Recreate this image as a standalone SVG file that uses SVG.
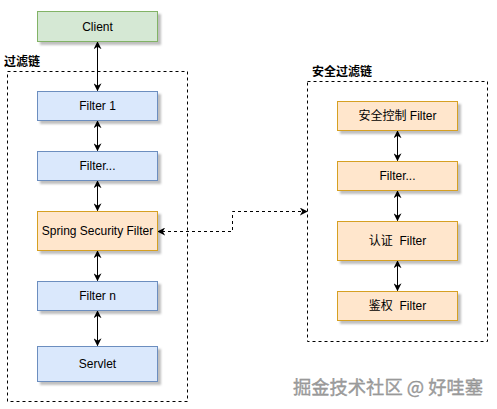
<svg xmlns="http://www.w3.org/2000/svg" width="497" height="409" viewBox="0 0 497 409">
<style>
.g{fill:#d5e8d4;stroke:#82b366}
.b{fill:#dae8fc;stroke:#6c8ebf}
.o{fill:#ffe6cc;stroke:#d6a020}
.t{font-family:"Liberation Sans",Arial,"Noto Sans CJK SC",sans-serif;font-size:12px;fill:#000;text-anchor:middle;dominant-baseline:central;white-space:pre}
.lbl{font-family:"Noto Sans CJK SC","Liberation Sans",sans-serif;font-size:12px;font-weight:bold;fill:#000}
.ct{fill:none;stroke:#000;stroke-dasharray:3 3;stroke-width:1}
.ar{fill:none;stroke:#000;stroke-width:1}
.wm{font-family:"Noto Sans CJK SC","Liberation Sans",sans-serif;font-size:18px;fill:#a0a0a0;stroke:#888;stroke-width:0.3}
</style>
<defs>
<filter id="sh" x="-10%" y="-10%" width="130%" height="140%">
<feDropShadow dx="3" dy="3" stdDeviation="0.8" flood-color="#000" flood-opacity="0.25"/>
</filter>
<marker id="a" viewBox="0 0 10 10" refX="9" refY="5" markerWidth="8" markerHeight="8" orient="auto-start-reverse" markerUnits="userSpaceOnUse">
<path d="M0,0 L10,5 L0,10 L3,5 z" fill="#000"/>
</marker>
</defs>
<rect width="497" height="409" fill="#fff"/>
<g id="chain">
<rect class="ct" x="7.5" y="71.5" width="180" height="330"/>
<text class="lbl" x="4" y="66">过滤链</text>
</g>
<g id="secchain">
<rect class="ct" x="307.5" y="81.5" width="180" height="260"/>
<text class="lbl" x="312" y="76">安全过滤链</text>
</g>
<g id="connectors">
<line class="ar" x1="97.5" y1="42" x2="97.5" y2="90.5" marker-start="url(#a)" marker-end="url(#a)"/>
<line class="ar" x1="97.5" y1="121" x2="97.5" y2="150.5" marker-start="url(#a)" marker-end="url(#a)"/>
<line class="ar" x1="97.5" y1="181" x2="97.5" y2="210.5" marker-start="url(#a)" marker-end="url(#a)"/>
<line class="ar" x1="97.5" y1="251" x2="97.5" y2="280.5" marker-start="url(#a)" marker-end="url(#a)"/>
<line class="ar" x1="97.5" y1="311" x2="97.5" y2="345.5" marker-start="url(#a)" marker-end="url(#a)"/>
<line class="ar" x1="397.5" y1="131" x2="397.5" y2="160.5" marker-start="url(#a)" marker-end="url(#a)"/>
<line class="ar" x1="397.5" y1="191" x2="397.5" y2="220.5" marker-start="url(#a)" marker-end="url(#a)"/>
<line class="ar" x1="397.5" y1="261" x2="397.5" y2="290.5" marker-start="url(#a)" marker-end="url(#a)"/>
<path class="ar" d="M307 211.5 H232.5 V231.5 H158" stroke-dasharray="3 3" marker-start="url(#a)" marker-end="url(#a)"/>
</g>
<g id="client"><rect class="g" x="37.5" y="11.5" width="120" height="30" filter="url(#sh)"/><text class="t" x="97.5" y="26.5">Client</text></g>
<g id="filter1"><rect class="b" x="37.5" y="91.5" width="120" height="29" filter="url(#sh)"/><text class="t" x="97.5" y="106">Filter 1</text></g>
<g id="filterdots"><rect class="b" x="37.5" y="151.5" width="120" height="29" filter="url(#sh)"/><text class="t" x="97.5" y="166">Filter...</text></g>
<g id="springsec"><rect class="o" x="37.5" y="211.5" width="120" height="39" filter="url(#sh)"/><text class="t" x="97.5" y="231">Spring Security Filter</text></g>
<g id="filtern"><rect class="b" x="37.5" y="281.5" width="120" height="29" filter="url(#sh)"/><text class="t" x="97.5" y="296">Filter n</text></g>
<g id="servlet"><rect class="b" x="37.5" y="346.5" width="120" height="35" filter="url(#sh)"/><text class="t" x="97.5" y="364">Servlet</text></g>
<g id="secctl"><rect class="o" x="337.5" y="101.5" width="120" height="29" filter="url(#sh)"/><text class="t" x="397.5" y="116">安全控制 Filter</text></g>
<g id="secdots"><rect class="o" x="337.5" y="161.5" width="120" height="29" filter="url(#sh)"/><text class="t" x="397.5" y="176">Filter...</text></g>
<g id="auth"><rect class="o" x="337.5" y="221.5" width="120" height="39" filter="url(#sh)"/><text class="t" x="397.5" y="241" xml:space="preserve">认证  Filter</text></g>
<g id="authz"><rect class="o" x="337.5" y="291.5" width="120" height="29" filter="url(#sh)"/><text class="t" x="397.5" y="306" xml:space="preserve">鉴权  Filter</text></g>
<text class="wm" x="293" y="394" textLength="190" lengthAdjust="spacingAndGlyphs">掘金技术社区 @ 好哇塞</text>
</svg>
